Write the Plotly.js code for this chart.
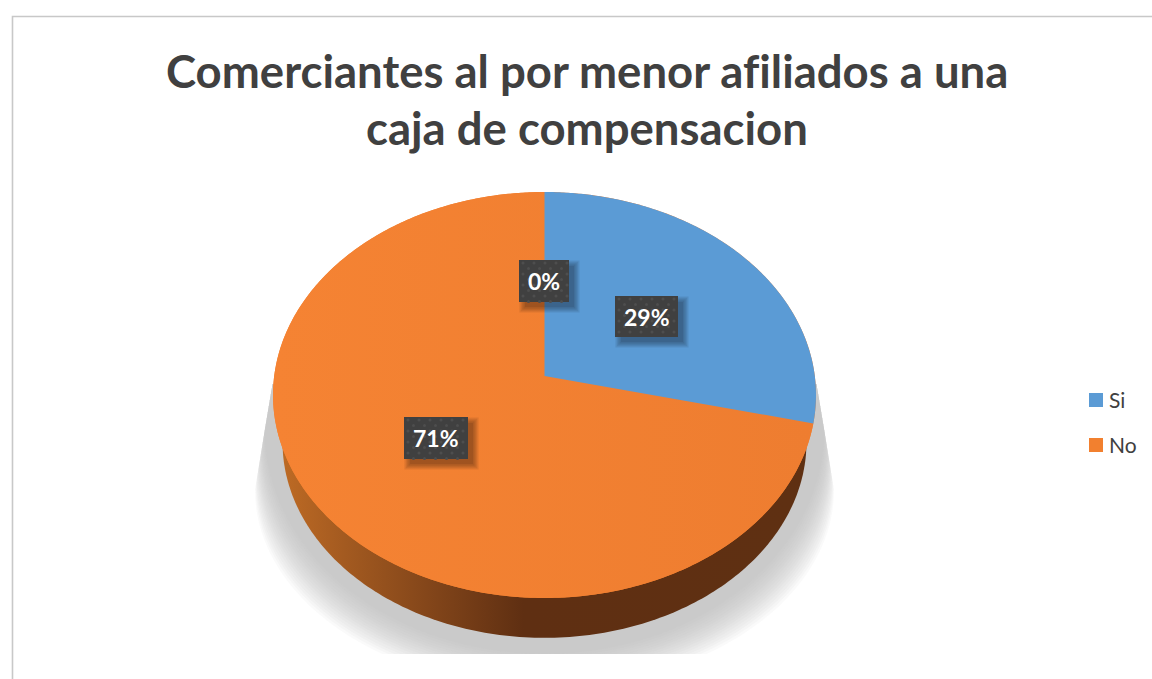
<!DOCTYPE html>
<html><head><meta charset="utf-8">
<script src="https://cdn.plot.ly/plotly-3.0.1.min.js"></script>
<style>html,body{margin:0;padding:0;background:#fff} svg text{font-variant-ligatures:none !important;font-feature-settings:"liga" 0,"clig" 0 !important}</style></head>
<body><div id="chart" style="width:1152px;height:679px"></div>
<script>
// ---- data
const categories = ['Si', 'No', ''];
const values = [28.7, 71.3, 0];
const colors = ['#5b9bd5', '#f2802f', '#a5a5a5'];
const titleLines = ['Comerciantes al por menor afiliados a una', 'caja de compensacion'];
const FONT = 'Lato, "Open Sans", sans-serif';

// ---- geometry of the tilted pie, in axis units
const cx = 544.5, apexY = 376, A = 201.2, B = 270.3, k = -0.0936;
const total = values.reduce((a, b) => a + b, 0);
function proj(frac) {           // share of the full turn, clockwise from the top
  const t = frac * 2 * Math.PI, X = Math.sin(t), Y = -Math.cos(t), d = 1 + k * Y;
  return [cx + B * X / d, apexY + A * Y / d];
}
const traces = [];
function poly(xs, ys, color, extra) {
  traces.push(Object.assign({type:'scatter', mode:'none', x:xs, y:ys, fill:'toself',
    fillcolor:color, hoverinfo:'skip', showlegend:false}, extra || {}));
}
// soft ground shadow: stacked translucent outlines with a hard upper edge
const layers = 16;
for (let i = 0; i < layers; i++) {
  const s = i / (layers - 1), y0 = 490 - 60 * s, yb = 688 - 34 * s;
  const inset = 17 * (y0 - 384) / 106, rx = cx - 272 + inset, ry = yb - y0;
  const xs = [272.5], ys = [384];
  for (let a = 180; a <= 360; a += 3) {
    const r = a * Math.PI / 180;
    xs.push(cx + rx * Math.cos(r)); ys.push(y0 - ry * Math.sin(r));
  }
  xs.push(816.5); ys.push(384);
  poly(xs, ys, 'rgba(180,180,180,0.069)');
}
// side wall and the disc under the faces
const sx = [], sy = [], dx = [], dy = [];
for (let i = 0; i <= 360; i++) {
  const p = proj(i / 360);
  dx.push(p[0]); dy.push(p[1]);
  sx.push(cx + (p[0] - cx) * 0.965); sy.push(442 + (p[1] - 395) * 0.965);
}
poly(sx, sy, '#5f3012', {fillgradient:{type:'horizontal', colorscale:[
  [0, '#bd6a24'], [0.12, '#a35a20'], [0.3, '#7f4319'], [0.46, '#5f2f12'], [1, '#5f3012']]}});
poly(dx, dy, colors[1]);
// top faces built from the values
let cum = 0;
const faces = [];
values.forEach((v, i) => {
  const start = cum / total, end = (cum + v) / total; cum += v;
  if (v === 0) return;
  const xs = [cx], ys = [apexY], n = Math.ceil(v * 7.2);
  for (let j = 0; j <= n; j++) {
    const p = proj(start + (end - start) * j / n);
    xs.push(p[0]); ys.push(p[1]);
  }
  faces.push({xs, ys, color: colors[i], name: categories[i]});
});
faces.slice().reverse().forEach(f => poly(f.xs, f.ys, f.color,
  f.name === 'No' ? {fillgradient:{type:'horizontal', colorscale:[[0,'#f58333'],[1,'#ee7d30']]}} : {}));

// ---- data labels
const labelBoxes = [[615, 678, 296, 337], [404, 468, 417, 459], [519, 569, 260, 302]];
const annotations = [];
const dotX = [], dotY = [];
labelBoxes.forEach((b, i) => {
  for (let g = 0; g < 5; g++) {
    const o = 1 + g * 1.4;
    poly([b[0]+5-o+2, b[1]+5+o-1, b[1]+5+o-1, b[0]+5-o+2], [b[2]+5-o+2, b[2]+5-o+2, b[3]+5+o-1, b[3]+5+o-1],
      'rgba(0,0,0,0.08)');
  }
  poly([b[0], b[1], b[1], b[0]], [b[2], b[2], b[3], b[3]], '#404040');
  for (let yy = b[2] + 3, r = 0; yy < b[3]; yy += 5.5, r++)
    for (let xx = b[0] + 4 + (r % 2) * 5.5; xx < b[1]; xx += 11) { dotX.push(xx); dotY.push(yy); }
  annotations.push({x:(b[0]+b[1])/2, y:(b[2]+b[3])/2, xref:'x', yref:'y', showarrow:false,
    text:'<b>' + Math.round(values[i] / total * 100) + '%</b>',
    font:{family:FONT, size:23, color:'#ffffff'}});
});
traces.push({type:'scatter', mode:'markers', x:dotX, y:dotY, hoverinfo:'skip', showlegend:false,
  marker:{size:3, color:'#4e4e4e', symbol:'circle'}});

// ---- legend
const legendY = [400, 445];
[0, 1].forEach(i => {
  traces.push({type:'scatter', mode:'markers', x:[1096], y:[legendY[i]], hoverinfo:'skip', showlegend:false,
    marker:{symbol:'square', size:14, color:colors[i]}});
  annotations.push({x:1107, y:legendY[i]-1, xref:'x', yref:'y', xanchor:'left', showarrow:false,
    text:categories[i], font:{family:FONT, size:21, color:'#404040'}});
});
// ---- title
[70, 127].forEach((y, i) => annotations.push({x:587, y:y, xref:'x', yref:'y', showarrow:false,
  text:'<b>' + titleLines[i] + '</b>', font:{family:FONT, size:45.5, color:'#404040'}}));

const frame = {type:'path', xref:'paper', yref:'paper', layer:'above',
  path:'M ' + (12.5/1152) + ' ' + (-25/654) + ' L ' + (12.5/1152) + ' ' + ((654-16.5)/654) + ' L 1 ' + ((654-16.5)/654),
  line:{color:'#c8c8c8', width:1.6}};

Plotly.newPlot('chart', traces, {
  width:1152, height:679, margin:{l:0, r:0, t:0, b:25}, autosize:false,
  paper_bgcolor:'#ffffff', plot_bgcolor:'#ffffff', showlegend:false,
  xaxis:{range:[0,1152], visible:false, fixedrange:true},
  yaxis:{range:[654,0], visible:false, fixedrange:true},
  annotations, shapes:[frame]
}, {displayModeBar:false, staticPlot:true});
</script></body></html>
